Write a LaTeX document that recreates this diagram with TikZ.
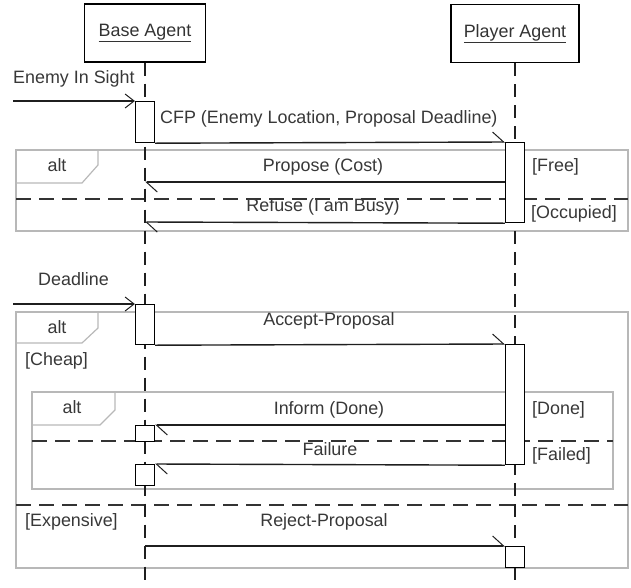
\documentclass[tikz,border=0pt]{standalone}
\usepackage{fontspec}
\setmainfont{Liberation Sans}
\usetikzlibrary{arrows.meta,calc}
\begin{document}
\begin{tikzpicture}[x=1pt,y=-1pt,
  font=\fontsize{17.9}{20}\selectfont,
  hdr/.style={draw, line width=1.2pt, minimum height=58pt, inner sep=0pt, text=black!80},
  act/.style={draw=black, fill=white, line width=1.2pt, minimum width=19pt, inner sep=0pt, anchor=north},
  msg/.style={line width=1.4pt, draw=black!88, -{Straight Barb[harpoon, length=11pt, width=20pt, line width=1pt]}},
  found/.style={line width=1.4pt, draw=black!88, -{Straight Barb[length=9pt, width=14pt, line width=1pt]}},
  life/.style={line width=1.2pt, draw=black!88, dash pattern=on 13pt off 8pt},
  frm/.style={draw=black!28, line width=1.2pt},
  sepline/.style={line width=1.3pt, draw=black!80, dash pattern=on 15pt off 8pt},
  lbl/.style={text=black!78, inner sep=0pt, anchor=base},
  lblw/.style={text=black!78, inner sep=0pt, anchor=base west}]
\useasboundingbox (0,0) rectangle (631,587);

% frames
\draw[frm] (16,150) rectangle (628,231);
\draw[frm] (16,150) -- (98,150) -- (98,165) -- (82,183) -- (16,183);
\draw[frm] (16,312) rectangle (628,568);
\draw[frm] (16,343) -- (82,343) -- (98,328) -- (98,312);
\draw[frm] (32,392) rectangle (613,489);
\draw[frm] (32,425) -- (100,425) -- (115,410) -- (115,392);

% separators
\draw[sepline] (16,199) -- (628,199);
\draw[sepline] (32,441) -- (613,441);
\draw[sepline] (16,505) -- (628,505);

% headers and lifelines
\node[hdr, minimum width=121pt] (base) at (145,33) {\underline{Base Agent}};
\node[hdr, minimum width=128pt] (player) at (515,33.5) {\underline{Player Agent}};
\coordinate (bEnd) at (145,587);
\coordinate (pEnd) at (515,587);
\draw[life] (base.south) -- (bEnd);
\draw[life] (player.south) -- (pEnd);

% activations
\node[act, minimum height=41pt] (a1) at (145,101) {};
\node[act, minimum height=80pt] (p1) at (515,142) {};
\node[act, minimum height=40pt] (a2) at (145,304) {};
\node[act, minimum height=120pt] (p2) at (515,344) {};
\node[act, minimum height=16pt] (a3) at (145,425) {};
\node[act, minimum height=21pt] (a4) at (145,464) {};
\node[act, minimum height=21pt] (p3) at (515,546) {};

% messages
\coordinate (f1) at (13,101);
\coordinate (f2) at (13,304);
\coordinate (m2) at (145,182);
\coordinate (m3) at (145,222);
\coordinate (m6) at (145,546);
\draw[found] (f1) -- (a1.north west);
\draw[msg] (a1.south east) -- (p1.north west);
\draw[msg] (p1.west |- m2) -- (m2);
\draw[msg] (p1.south west) -- (m3);
\draw[found] (f2) -- (a2.north west);
\draw[msg] (a2.south east) -- (p2.north west);
\draw[msg] (p2.west |- a3.north) -- (a3.north east);
\draw[msg] (p2.south west) -- (a4.north east);
\draw[msg] (m6) -- (p3.north west);

% labels
\node[lblw] (t1) at (13,83) {Enemy In Sight};
\node[lblw] (t2) at (160,123) {CFP (Enemy Location, Proposal Deadline)};
\node[lbl] (t3) at (57,171) {alt};
\node[lbl] (t4) at (323,171) {Propose (Cost)};
\node[lblw] (t5) at (532,171) {[Free]};
\node[lbl] (t6) at (323,211) {Refuse (I am Busy)};
\node[lblw] (t7) at (531,218) {[Occupied]};
\node[lblw] (t8) at (38,285) {Deadline};
\node[lbl] (t9) at (57,333) {alt};
\node[lbl] (t10) at (329,325) {Accept-Proposal};
\node[lblw] (t11) at (25,365) {[Cheap]};
\node[lbl] (t12) at (72,413) {alt};
\node[lbl] (t13) at (329,414) {Inform (Done)};
\node[lblw] (t14) at (532,414) {[Done]};
\node[lbl] (t15) at (330,455) {Failure};
\node[lblw] (t16) at (532,460) {[Failed]};
\node[lblw] (t17) at (25,526) {[Expensive]};
\node[lbl] (t18) at (324,526) {Reject-Proposal};
\end{tikzpicture}
\end{document}
